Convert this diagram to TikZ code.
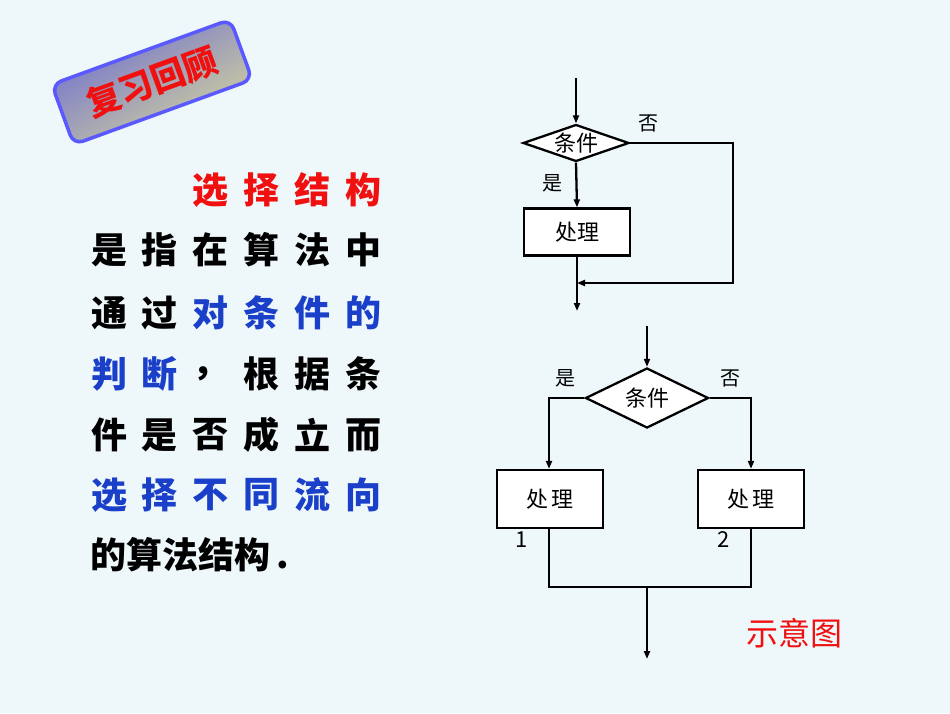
\documentclass[tikz,border=0pt]{standalone}
\usepackage{fontspec}
\setmainfont{Noto Sans CJK SC}
\usetikzlibrary{shapes.geometric,arrows.meta}
\definecolor{bgc}{HTML}{EEF7FA}
\definecolor{bl}{HTML}{1A3FC8}
\definecolor{rd}{HTML}{F01010}
\begin{document}
\begin{tikzpicture}[x=1pt,y=-1pt,
  ln/.style={line width=2.3pt,black},
  ar/.style={ln,-{Triangle[length=8pt,width=6pt]}},
  boxn/.style={draw,line width=2.3pt,fill=white,minimum width=106pt,inner sep=0pt,font=\fontsize{22}{24}\selectfont},
  dia/.style={diamond,draw,line width=2.3pt,fill=white,aspect=2.9,inner sep=0pt,font=\fontsize{22}{24}\selectfont},
  lab/.style={font=\fontsize{20}{22}\selectfont},
  tx/.style={font=\fontsize{36}{38}\selectfont\bfseries,inner sep=0pt}]
\fill[bgc] (0,0) rectangle (950,713);
\useasboundingbox (0,0) rectangle (950,713);
% badge
\node[rotate=20,draw=blue!65,line width=3.5pt,rounded corners=10pt,minimum width=190pt,minimum height=64pt,
  top color=blue!50!gray!75, bottom color=yellow!40!gray!55, shading angle=30,
  text=rd,font=\fontsize{34}{36}\selectfont\bfseries,inner sep=2pt] (badge) at (152,82) {复习回顾};
% left text
\foreach \c [count=\i from 3] in {选,择,结,构} \node[tx,text=rd] at ({109+(\i-1)*50.8},190) {\c};
\foreach \c [count=\i] in {是,指,在,算,法,中} \node[tx] at ({109+(\i-1)*50.8},250) {\c};
\foreach \c/\k [count=\i] in {通/black,过/black,对/bl,条/bl,件/bl,的/bl} \node[tx,text=\k] at ({109+(\i-1)*50.8},313) {\c};
\foreach \c/\k [count=\i] in {判/bl,断/bl,，/black,根/black,据/black,条/black} \node[tx,text=\k] at ({109+(\i-1)*50.8},374) {\c};
\foreach \c [count=\i] in {件,是,否,成,立,而} \node[tx] at ({109+(\i-1)*50.8},435) {\c};
\foreach \c [count=\i] in {选,择,不,同,流,向} \node[tx,text=bl] at ({109+(\i-1)*50.8},495) {\c};
\node[tx,anchor=west] (last) at (90,555) {的算法结构\,.};
% top flowchart
\coordinate (t0) at (576,78);
\node[dia,minimum width=106pt,minimum height=37pt] (d1) at (576,143) {条件};
\node[boxn,minimum height=47pt] (p1) at (577,232) {处理};
\coordinate (r1) at (733,143);
\coordinate (r2) at (733,283);
\coordinate (j1) at (577,283);
\coordinate (e1) at (577,311);
\draw[ar] (t0) -- (d1.north);
\draw[ar] (d1.south) -- (p1.north);
\draw[ar] (d1.east) -- (r1) -- (r2) -- (j1);
\draw[ar] (p1.south) -- (e1);
\node[lab] (no1) at (648,123) {否};
\node[lab] (yes1) at (552,183) {是};
% bottom flowchart
\coordinate (t1) at (647,326);
\node[dia,minimum width=123pt,minimum height=60pt,aspect=2] (d2) at (647,398) {条件};
\node[boxn,minimum height=58pt] (p2) at (550,499) {处\,理};
\node[boxn,minimum height=58pt] (p3) at (751,499) {处\,理};
\node[font=\fontsize{22}{22}\selectfont\rmfamily] (n1) at (522,540) {1};
\node[font=\fontsize{22}{22}\selectfont\rmfamily] (n2) at (724,540) {2};
\coordinate (l1) at (549,398);
\coordinate (r3) at (751,398);
\coordinate (b1) at (549,587);
\coordinate (b2) at (751,587);
\coordinate (m1) at (647,587);
\coordinate (e2) at (647,659);
\draw[ar] (t1) -- (d2.north);
\draw[ar] (d2.west) -- (l1) -- (p2.north -| l1);
\draw[ar] (d2.east) -- (r3) -- (p3.north);
\draw[ln] (p2.south -| b1) -- (b1) -- (b2) -- (p3.south);
\draw[ar] (m1) -- (e2);
\node[lab] (yes2) at (565,378) {是};
\node[lab] (no2) at (730,378) {否};
\node[text=rd,font=\fontsize{32}{34}\selectfont] (cap) at (794,633) {示意图};
\end{tikzpicture}
\end{document}
